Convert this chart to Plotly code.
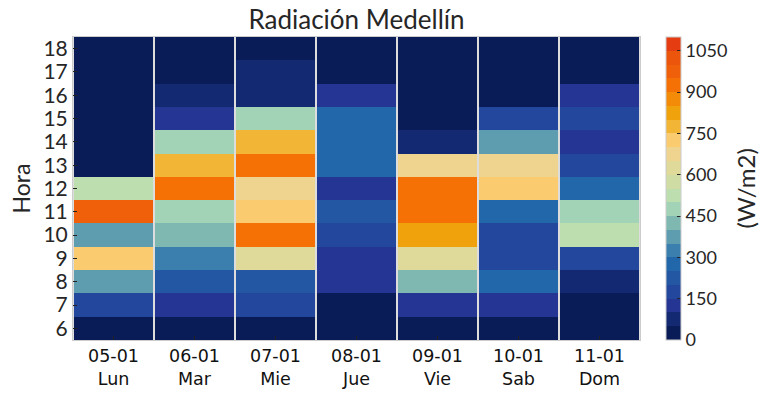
import plotly.graph_objects as go

days = ["05-01", "06-01", "07-01", "08-01", "09-01", "10-01", "11-01"]
weekdays = ["Lun", "Mar", "Mie", "Jue", "Vie", "Sab", "Dom"]
hours = [6, 7, 8, 9, 10, 11, 12, 13, 14, 15, 16, 17, 18]

# Radiation (W/m2) per day, hours 6..18
lun = [25, 175, 375, 725, 375, 975, 525, 25, 25, 25, 25, 25, 25]
mar = [25, 125, 225, 325, 425, 475, 925, 775, 475, 125, 75, 25, 25]
mie = [25, 175, 225, 625, 925, 725, 675, 925, 775, 475, 75, 75, 25]
jue = [25, 25, 125, 125, 175, 225, 125, 275, 275, 275, 125, 25, 25]
vie = [25, 125, 425, 625, 825, 925, 925, 675, 75, 25, 25, 25, 25]
sab = [25, 125, 275, 175, 175, 275, 725, 675, 375, 175, 25, 25, 25]
dom = [25, 25, 75, 175, 525, 475, 275, 175, 125, 175, 125, 25, 25]

series = [lun, mar, mie, jue, vie, sab, dom]
z = [[s[i] for s in series] for i in range(len(hours))]
xlabels = [f"{d}<br>{w}" for d, w in zip(days, weekdays)]

bin_colors = ["#0a1c57", "#132a73", "#253593", "#22479c", "#2356a3", "#2167a9",
              "#3a7fae", "#5e9db0", "#7fb8b1", "#a2d3b7", "#bddfb0", "#cfdca4",
              "#dfd99a", "#efd490", "#fbcb6f", "#f3b536", "#f0a20c", "#f38a08",
              "#f57105", "#f0600a", "#ec550c", "#e63c12"]
n = len(bin_colors)
cs = []
for i, c in enumerate(bin_colors):
    cs.append([i / n, c])
    cs.append([(i + 1) / n, c])

fig = go.Figure(go.Heatmap(
    z=z, x=xlabels, y=hours, zmin=0, zmax=1100,
    colorscale=cs, xgap=2,
    colorbar=dict(
        tickvals=[0, 150, 300, 450, 600, 750, 900, 1050],
        ticks="inside", ticklen=4, tickcolor="#262626",
        tickfont=dict(family="Lato", size=18, color="#262626"),
        thickness=15, len=1, lenmode="fraction", xpad=0, ypad=0,
        x=(666 - 73) / 567, xanchor="left", y=0.5, yanchor="middle",
        outlinecolor="#cccccc", outlinewidth=1,
    ),
))

fig.update_layout(
    width=767, height=395,
    margin=dict(l=73, r=127, t=37, b=55, autoexpand=False),
    paper_bgcolor="white", plot_bgcolor="#dddddd",
    title=dict(text="Radiación Medellín", x=(73 + 640) / 2 / 767, xanchor="center",
               y=1 - 20 / 395, yanchor="middle",
               font=dict(family="Lato", size=26, color="#262626")),
    showlegend=False,
    annotations=[dict(
        text="(W/m2)", textangle=-90, xref="paper", yref="paper",
        x=(745 - 73) / 567, y=0.5, xanchor="center", yanchor="middle",
        showarrow=False, font=dict(family="Lato", size=24, color="#262626"),
    )],
)
fig.update_xaxes(
    type="category", tickfont=dict(family="DejaVu Sans", size=17.5, color="#111111"),
    ticks="inside", ticklen=4, tickcolor="#222222", showgrid=False,
    showline=True, linecolor="#cccccc", mirror=True, zeroline=False,
)
fig.update_yaxes(
    range=[5.5, 18.5], tickvals=hours, ticktext=[str(h) for h in hours],
    tickfont=dict(family="Lato", size=21, color="#262626"),
    ticks="inside", ticklen=4, tickcolor="#222222", showgrid=False,
    showline=True, linecolor="#cccccc", mirror=True, zeroline=False,
    title=dict(text="Hora", font=dict(family="Lato", size=23, color="#262626"), standoff=6),
)

fig.write_html("out.html")
